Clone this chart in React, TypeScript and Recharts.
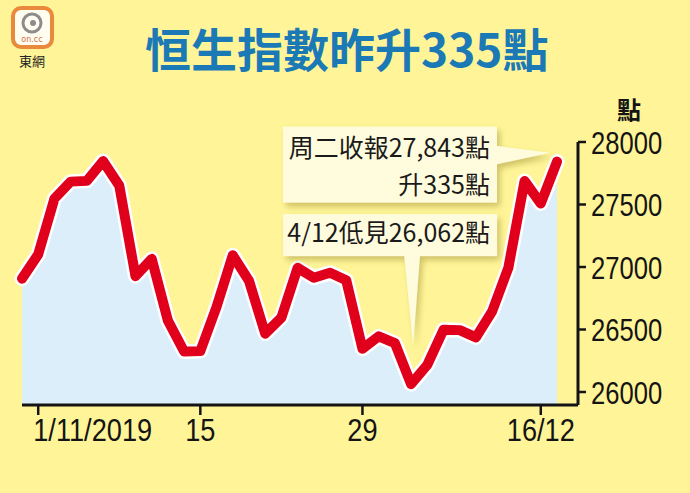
import { ComposedChart, Area, Line, XAxis, YAxis, ReferenceDot } from 'recharts';

const dates = [
  '31/10', '1/11', '4/11', '5/11', '6/11', '7/11', '8/11', '11/11', '12/11', '13/11', '14/11', '15/11',
  '18/11', '19/11', '20/11', '21/11', '22/11', '25/11', '26/11', '27/11', '28/11', '29/11',
  '2/12', '3/12', '4/12', '5/12', '6/12', '9/12', '10/12', '11/12', '12/12', '13/12', '16/12', '17/12',
];
const closes = [
  26907, 27101, 27547, 27683, 27689, 27847, 27651, 26927, 27065, 26571, 26324, 26327,
  26681, 27094, 26890, 26467, 26595, 26993, 26914, 26954, 26894, 26346,
  26445, 26391, 26063, 26217, 26498, 26495, 26437, 26645, 26994, 27688, 27508, 27843,
];
const xTicks = ['1/11', '15/11', '29/11', '16/12'];
const xTickLabels = ['1/11/2019', '15', '29', '16/12'];
const yTicks = [26000, 26500, 27000, 27500, 28000];

const title = '恒生指數昨升335點';
const unitLabel = '點';
const closeNote = ['周二收報27,843點', '升335點'];
const lowNote = '4/12低見26,062點';
const closeDate = '17/12';
const lowDate = '4/12';

const data = dates.map((date, i) => ({ date, close: closes[i] }));

const BG = '#FFF598';
const AXIS = '#141414';
const TICK_FONT = "'Liberation Sans', Arial, sans-serif";
const CJK = "'Noto Sans CJK TC', 'Noto Sans CJK SC', sans-serif";
const BOX = '#FFFCDD';
// the original uses a condensed face
const X_SQUEEZE = 0.85;
const Y_SQUEEZE = 0.8;

function XTick({ x, y, payload }: any) {
  const idx = xTicks.indexOf(payload.value);
  const first = idx === 0;
  return (
    <g transform={`translate(${first ? x - 5 : x},${y}) scale(${X_SQUEEZE},1)`}>
      <text x={0} y={0} dy="0.71em" textAnchor={first ? 'start' : 'middle'} fontFamily={TICK_FONT} fontSize={32} fill={AXIS}>
        {xTickLabels[idx]}
      </text>
    </g>
  );
}

function YTick({ x, y, payload }: any) {
  return (
    <g transform={`translate(${x - 3},${y}) scale(${Y_SQUEEZE},1)`}>
      <text x={0} y={0} dy="0.36em" textAnchor="start" fontFamily={TICK_FONT} fontSize={32} fill={AXIS}>
        {payload.value}
      </text>
    </g>
  );
}

function Shadow({ id }: { id: string }) {
  return (
    <defs>
      <filter id={id} x="-20%" y="-30%" width="140%" height="160%">
        <feDropShadow dx="3" dy="4" stdDeviation="3" floodColor="#a8963a" floodOpacity="0.55" />
      </filter>
    </defs>
  );
}

// callout anchored on the closing point
function CloseCallout({ cx, cy }: any) {
  return (
    <g>
      <Shadow id="shadowClose" />
      <g filter="url(#shadowClose)">
        <rect x={cx - 274} y={cy - 35} width={214} height={76} fill={BOX} />
        <polygon points={`${cx - 62},${cy - 16} ${cx - 7},${cy - 9} ${cx - 62},${cy + 3}`} fill={BOX} />
      </g>
      <text x={cx - 67} y={cy - 5} textAnchor="end" fontFamily={CJK} fontSize={25} fill="#1a1a1a">
        {closeNote[0]}
      </text>
      <text x={cx - 67} y={cy + 32} textAnchor="end" fontFamily={CJK} fontSize={25} fill="#1a1a1a">
        {closeNote[1]}
      </text>
    </g>
  );
}

// callout anchored on the December low
function LowCallout({ cx, cy }: any) {
  return (
    <g>
      <Shadow id="shadowLow" />
      <g filter="url(#shadowLow)">
        <rect x={cx - 128} y={cy - 170} width={214} height={42} fill={BOX} />
        <polygon points={`${cx - 7},${cy - 130} ${cx + 2},${cy - 39} ${cx + 9},${cy - 130}`} fill={BOX} />
      </g>
      <text x={cx + 79} y={cy - 142} textAnchor="end" fontFamily={CJK} fontSize={25} fill="#1a1a1a">
        {lowNote}
      </text>
    </g>
  );
}

export default function App() {
  return (
    <div style={{ position: 'absolute', left: 0, top: 0, width: 690, height: 493, background: BG, overflow: 'hidden' }}>
      <svg width={690} height={493} style={{ position: 'absolute', left: 0, top: 0 }}>
        {/* on.cc logo */}
        <rect x={13} y={8} width={39} height={39} rx={8} fill="#fffdf0" stroke="#E8893C" strokeWidth={4} />
        <circle cx={32} cy={23} r={9} fill="none" stroke="#8c8c8c" strokeWidth={3} />
        <circle cx={33} cy={23} r={3} fill="#8c8c8c" />
        <text x={32} y={42} textAnchor="middle" fontFamily="DejaVu Sans" fontSize={8} fill="#d0704a">on.cc</text>
        <text x={32} y={66} textAnchor="middle" fontFamily={CJK} fontSize={13} fill="#222">東網</text>
        <text x={145} y={67} fontFamily={CJK} fontWeight={700} fontSize={46} fill="#1B79B6">
          {title}
        </text>
        <text x={617} y={119} fontFamily={CJK} fontWeight={700} fontSize={24} fill={AXIS}>
          {unitLabel}
        </text>
      </svg>
      <div style={{ position: 'absolute', left: 0, top: 0 }}>
        <ComposedChart width={690} height={493} data={data} margin={{ top: 142, right: 12, bottom: 48, left: 22 }}>
          <XAxis
            dataKey="date"
            ticks={xTicks}
            interval={0}
            height={40}
            padding={{ left: 0, right: 21 }}
            axisLine={{ stroke: AXIS, strokeWidth: 3 }}
            tickLine={{ stroke: AXIS, strokeWidth: 2.5 }}
            tickSize={10}
            tickMargin={3}
            tick={<XTick />}
          />
          <YAxis
            orientation="right"
            width={100}
            domain={[25896, 28000]}
            allowDataOverflow
            ticks={yTicks}
            interval={0}
            axisLine={{ stroke: AXIS, strokeWidth: 3 }}
            tickLine={{ stroke: AXIS, strokeWidth: 2.5 }}
            tickSize={8}
            tickMargin={8}
            tick={<YTick />}
          />
          <Area dataKey="close" type="linear" fill="#DCEEFA" fillOpacity={1} stroke="none" isAnimationActive={false} />
          <Line dataKey="close" type="linear" stroke="#ffffff" strokeWidth={15} dot={false} strokeLinejoin="round" strokeLinecap="round" isAnimationActive={false} />
          <Line dataKey="close" type="linear" stroke="#E1001C" strokeWidth={10} dot={false} strokeLinejoin="round" strokeLinecap="round" isAnimationActive={false} />
          <ReferenceDot x={closeDate} y={closes[dates.indexOf(closeDate)]} ifOverflow="visible" shape={<CloseCallout />} />
          <ReferenceDot x={lowDate} y={closes[dates.indexOf(lowDate)]} ifOverflow="visible" shape={<LowCallout />} />
        </ComposedChart>
      </div>
    </div>
  );
}
